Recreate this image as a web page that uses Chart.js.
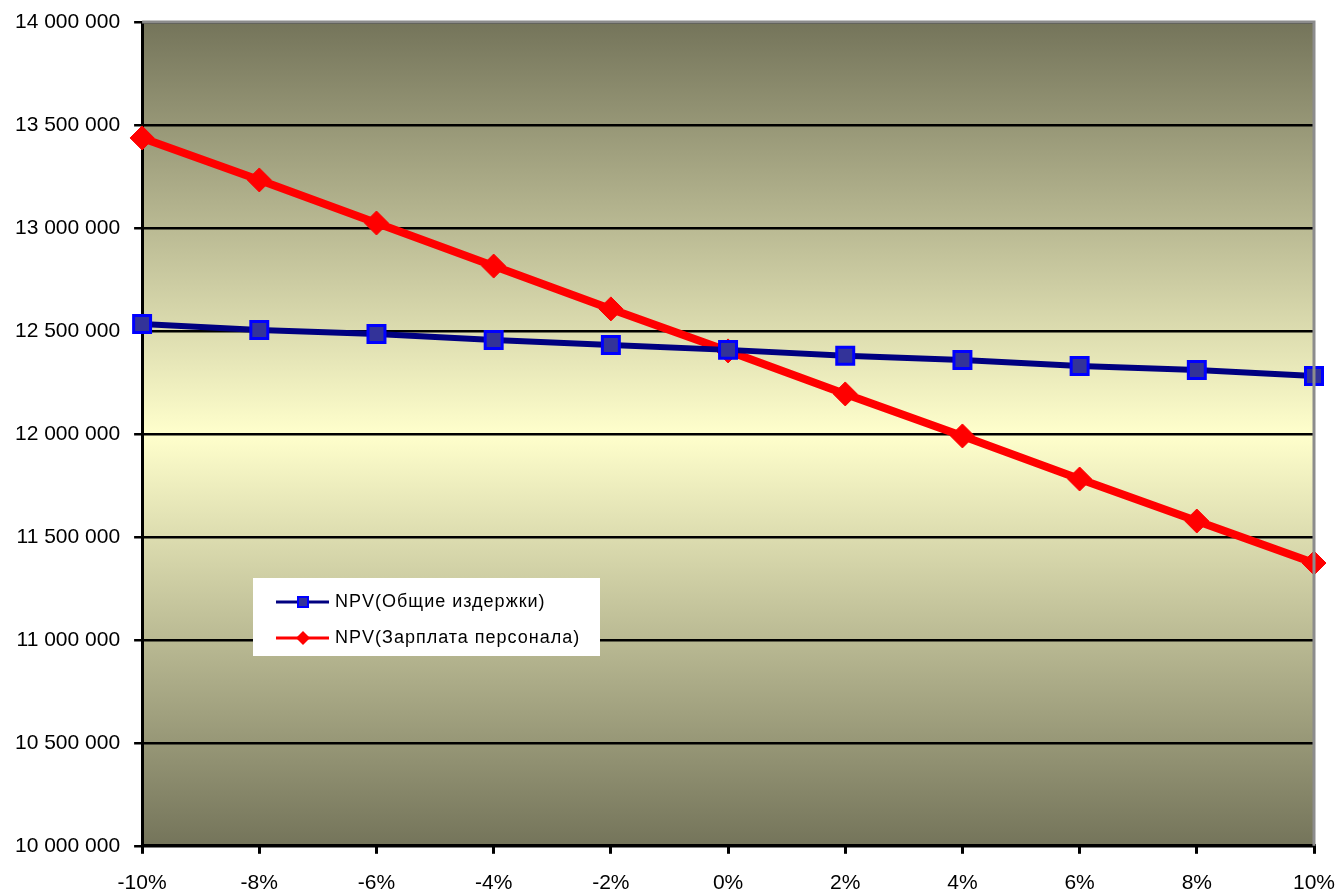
<!DOCTYPE html>
<html>
<head>
<meta charset="utf-8">
<script src="https://cdn.jsdelivr.net/npm/chart.js@4.4.1/dist/chart.umd.min.js"></script>
<style>
  html, body { margin: 0; padding: 0; background: #fff; }
  #wrap { width: 1340px; height: 893px; position: relative; }
</style>
</head>
<body>
<div id="wrap"><canvas id="npv"></canvas></div>
<script>
// sensitivity steps (x axis)
const steps = ['-10%', '-8%', '-6%', '-4%', '-2%', '0%', '2%', '4%', '6%', '8%', '10%'];
// NPV when total costs change
const npvCosts = [12534000, 12505000, 12485000, 12456000, 12432000, 12408000, 12379000, 12359000, 12330000, 12310000, 12281000];
// NPV when staff salary changes
const npvSalary = [13437000, 13233000, 13024000, 12815000, 12607000, 12403000, 12194000, 11990000, 11781000, 11577000, 11373000];
const seriesNames = ['NPV(Общие издержки)', 'NPV(Зарплата персонала)'];

const FONT = '"Liberation Sans", Arial, sans-serif';

function fmtNum(v) {
    return String(v).replace(/\B(?=(\d{3})+(?!\d))/g, ' ');
}

// gradient background + grey top/right frame
const plotBg = {
    id: 'plotBg',
    beforeDraw(chart) {
        const a = chart.chartArea;
        const c = chart.ctx;
        const g = c.createLinearGradient(0, a.top, 0, a.bottom);
        g.addColorStop(0, '#74745a');
        g.addColorStop(0.5, '#ffffcc');
        g.addColorStop(1, '#74745a');
        c.save();
        c.fillStyle = g;
        c.fillRect(a.left, a.top, a.right - a.left, a.bottom - a.top);
        c.restore();
    },
    afterDatasetsDraw(chart) {
        const a = chart.chartArea;
        const c = chart.ctx;
        c.save();
        c.strokeStyle = '#8c8c8c';
        c.lineWidth = 3;
        c.beginPath();
        c.moveTo(a.left, a.top);
        c.lineTo(a.right, a.top);
        c.lineTo(a.right, a.bottom);
        c.stroke();
        c.restore();
    }
};

// legend box sitting inside the plot
const boxLegend = {
    id: 'boxLegend',
    afterDraw(chart) {
        const c = chart.ctx;
        const x = 253, y = 578, w = 347, h = 78;
        c.save();
        c.fillStyle = '#ffffff';
        c.fillRect(x, y, w, h);
        c.font = '18px ' + FONT;
        c.letterSpacing = '1px';
        c.textBaseline = 'middle';
        chart.data.datasets.forEach((ds, i) => {
            const ly = y + 24 + i * 36;
            c.strokeStyle = ds.borderColor;
            c.lineWidth = 3;
            c.beginPath();
            c.moveTo(x + 23, ly);
            c.lineTo(x + 76, ly);
            c.stroke();
            const mx = x + 50;
            c.fillStyle = ds.pointBackgroundColor;
            if (i === 0) {
                c.strokeStyle = ds.pointBorderColor;
                c.lineWidth = 2;
                c.fillRect(mx - 5, ly - 5, 10, 10);
                c.strokeRect(mx - 5, ly - 5, 10, 10);
            } else {
                c.beginPath();
                c.moveTo(mx, ly - 7);
                c.lineTo(mx + 7, ly);
                c.lineTo(mx, ly + 7);
                c.lineTo(mx - 7, ly);
                c.closePath();
                c.fill();
            }
            c.fillStyle = '#000';
            c.fillText(ds.label, x + 82, ly);
        });
        c.restore();
    }
};

const ctx = document.getElementById('npv').getContext('2d');
const config = {
    type: 'line',
    data: {
        labels: steps,
        datasets: [{
            label: seriesNames[0],
            data: npvCosts,
            borderColor: '#000080',
            borderWidth: 6,
            pointStyle: 'rect',
            pointRadius: 12,
            pointBackgroundColor: '#333399',
            pointBorderColor: '#0000ff',
            pointBorderWidth: 3,
            tension: 0
        },
        {
            label: seriesNames[1],
            data: npvSalary,
            borderColor: '#ff0000',
            borderWidth: 8,
            pointStyle: 'rectRot',
            pointRadius: 12,
            pointBackgroundColor: '#ff0000',
            pointBorderColor: '#ff0000',
            pointBorderWidth: 1,
            tension: 0
        }]
    },
    options: {
        responsive: true,
        maintainAspectRatio: false,
        animation: false,
        layout: { padding: { top: 0, right: 0, left: 1, bottom: -20 } },
        plugins: {
            legend: { display: false },
            tooltip: { enabled: false }
        },
        scales: {
            x: {
                offset: false,
                afterFit: (s) => { s.paddingRight = 26; s.paddingLeft = 0; },
                grid: {
                    drawOnChartArea: false,
                    color: '#000',
                    lineWidth: 3,
                    tickLength: 8
                },
                border: { color: '#000', width: 3 },
                ticks: {
                    color: '#000',
                    font: { family: FONT, size: 21 },
                    padding: 17,
                    maxRotation: 0,
                    autoSkip: false
                }
            },
            y: {
                min: 10000000,
                max: 14000000,
                afterFit: (s) => { s.paddingTop = 22; s.paddingBottom = 0; },
                grid: {
                    color: '#000',
                    lineWidth: 2.5,
                    tickLength: 8
                },
                border: { color: '#000', width: 3 },
                ticks: {
                    stepSize: 500000,
                    color: '#000',
                    font: { family: FONT, size: 21 },
                    padding: 14,
                    callback: (v) => fmtNum(v)
                }
            }
        }
    },
    plugins: [plotBg, boxLegend]
};
const npvChart = new Chart(ctx, config);
</script>
</body>
</html>
